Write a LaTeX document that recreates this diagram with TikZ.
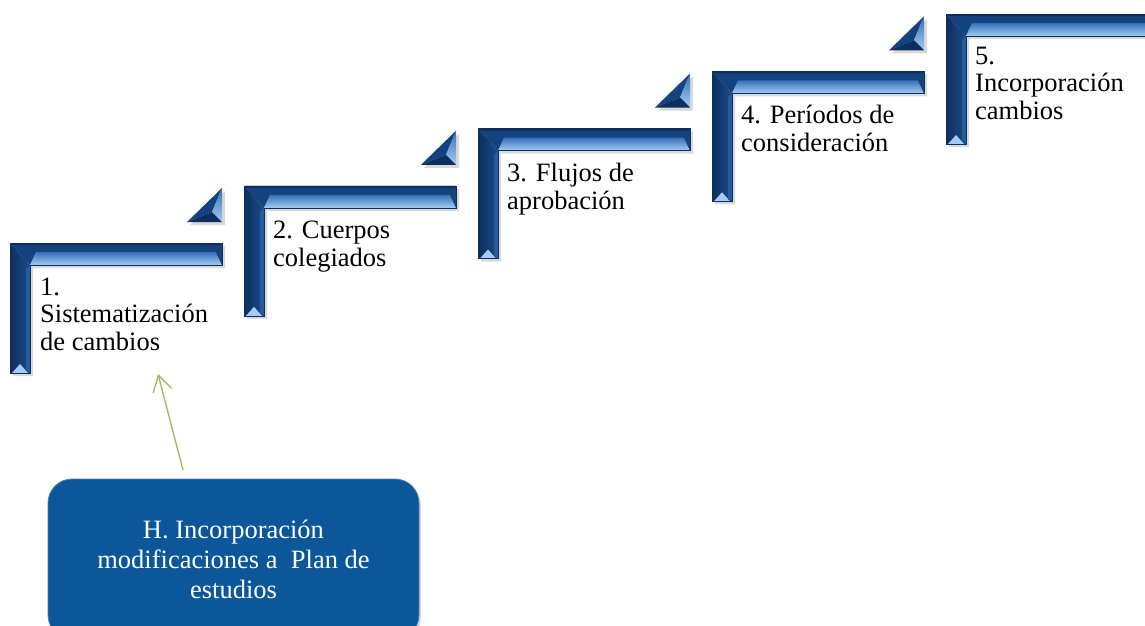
\documentclass[tikz,border=0pt]{standalone}
\usepackage{fontspec}
\setmainfont{Liberation Serif}
\usetikzlibrary{shadows,arrows.meta}
\definecolor{navy}{HTML}{14427E}
\definecolor{navyd}{HTML}{0C2F5E}
\definecolor{midb}{HTML}{3570B8}
\definecolor{lightb}{HTML}{A3CBF3}
\definecolor{boxblue}{HTML}{0B5799}
\definecolor{arrowgreen}{HTML}{9BBB59}
\tikzset{
  stairL/.pic={
    \fill[black,opacity=.15] (3,3) -- (215,3) -- (215,25) -- (23,25) -- (23,133) -- (3,133) -- cycle;
    % horizontal bar
    \fill[navy] (0,0) -- (212,0) -- (212,22) -- (20,22) -- cycle;
    \shade[top color=midb, bottom color=lightb] (26,9) -- (206,9) -- (212,22) -- (20,22) -- cycle;
    \fill[navyd] (0,0) -- (212,0) -- (210,2) -- (2,2) -- cycle;
    \fill[navyd!70!midb] (206,9) -- (212,1) -- (212,22) -- cycle;
    % vertical bar
    \shade[left color=navyd, right color=navy!80!midb] (0,0) -- (20,22) -- (20,130) -- (0,130) -- cycle;
    \fill[midb!55!navy] (20,22) -- (20,130) -- (16,126) -- (16,26) -- cycle;
    \fill[lightb] (2,130) -- (18,130) -- (10,121) -- cycle;
    \draw[navyd,line width=.5] (0,0) -- (212,0) -- (212,22) -- (20,22) -- (20,130) -- (0,130) -- cycle;
  },
  stairT/.pic={
    \fill[black,opacity=.15] (180,-18) -- (215,-18) -- (215,-52) -- cycle;
    \fill[navy] (177,-21) -- (212,-55) -- (202,-31) -- cycle;
    \shade[top color=midb, bottom color=lightb] (212,-55) -- (212,-21) -- (202,-31) -- cycle;
    \fill[navyd] (177,-21) -- (212,-21) -- (202,-31) -- cycle;
  },
  steptext/.style={anchor=base west, align=left, inner sep=0pt,
    font=\fontsize{26.5}{27.5}\selectfont},
  hbox/.style={rounded corners=24pt, fill=boxblue, draw=boxblue!75!white, line width=.8pt,
    minimum width=371pt, minimum height=160pt, text=white, align=center,
    font=\fontsize{26.5}{30}\selectfont,
    drop shadow={shadow xshift=2pt, shadow yshift=-3pt, opacity=.3}},
  garrow/.style={arrowgreen, line width=1.3pt, -{Straight Barb[length=16pt,width=19pt,line width=1.3pt]}}
}
\begin{document}
\begin{tikzpicture}[x=1pt,y=-1pt]
\useasboundingbox (0,0) rectangle (1145,625);
\clip (0,0) rectangle (1145,625);
\fill[white] (0,0) rectangle (1145,625);
\foreach \k in {0,...,4} { \pic at ({10+234*\k},{243-57.25*\k}) {stairL}; }
\foreach \k in {0,...,3} { \pic at ({10+234*\k},{243-57.25*\k}) {stairT}; }

% base anchor = baseline of the last line
\node[steptext] (t1) at (40,350) {1.\\Sistematización\\de cambios};
\node[steptext] (t2) at (273,266) {2. Cuerpos\\colegiados};
\node[steptext] (t3) at (507,209) {3. Flujos de\\aprobación};
\node[steptext] (t4) at (741,151) {4. Períodos de\\consideración};
\node[steptext] (t5) at (975,119) {5.\\Incorporación\\cambios};

\node[hbox] (h) at (233.5,559) {H. Incorporación\\modificaciones a\ \ Plan de\\estudios};

\coordinate (as) at (183,470);
\coordinate (ae) at (158,374);
\draw[garrow] (as) -- (ae);
\end{tikzpicture}
\end{document}
